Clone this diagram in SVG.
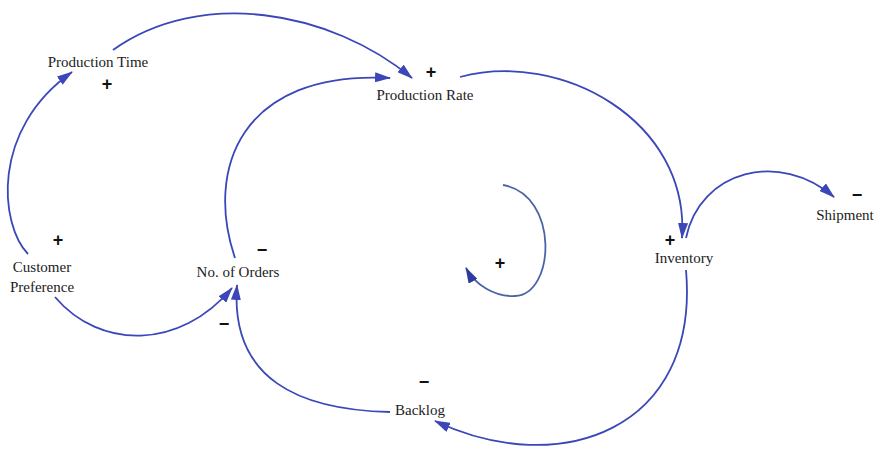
<svg xmlns="http://www.w3.org/2000/svg" width="877" height="452" viewBox="0 0 877 452">
<style>
.lbl{font-family:"Liberation Serif","Times New Roman",serif;font-size:15px;fill:#222;text-anchor:middle}
.sg{font-family:"Liberation Sans",Arial,sans-serif;font-size:18px;font-weight:bold;fill:#111;text-anchor:middle}
.ln{fill:none;stroke:#3b47b8;stroke-width:1.8}
.in{fill:none;stroke:#4a64a6;stroke-width:1.8}
</style>
<defs>
<marker id="ah" markerWidth="16" markerHeight="10" refX="15" refY="5" orient="auto" markerUnits="userSpaceOnUse">
<path d="M0,0 L16,5 L0,10 Z" fill="#3b47b8"/>
</marker>
<marker id="ah2" markerWidth="16" markerHeight="10" refX="15" refY="5" orient="auto" markerUnits="userSpaceOnUse">
<path d="M0,0 L16,5 L0,10 Z" fill="#2e3a9e"/>
</marker>
</defs>
<rect width="877" height="452" fill="#fff"/>
<g id="connectors">
<path class="ln" d="M28 254 C0 225,-10 130,72 72" marker-end="url(#ah)"/>
<path class="ln" d="M113 50 C200 -12,330 10,412 78" marker-end="url(#ah)"/>
<path class="ln" d="M235 258 C205 170,240 70,390 78" marker-end="url(#ah)"/>
<path class="ln" d="M460 77 C560 50,690 120,682 238" marker-end="url(#ah)"/>
<path class="ln" d="M686 238 C700 170,780 150,834 197" marker-end="url(#ah)"/>
<path class="ln" d="M686 270 C700 430,560 480,435 421" marker-end="url(#ah)"/>
<path class="ln" d="M390 412 C300 410,230 380,237 285" marker-end="url(#ah)"/>
<path class="ln" d="M55 297 C100 350,180 350,232 288" marker-end="url(#ah)"/>
<path class="in" d="M503 185 C560 195,555 295,515 296 C495 297,475 285,466 268" marker-end="url(#ah2)"/>
</g>
<g id="production-time"><text class="lbl" x="98" y="67">Production Time</text><text class="sg" x="107" y="90">+</text></g>
<g id="production-rate"><text class="lbl" x="425" y="100">Production Rate</text><text class="sg" x="431" y="78">+</text></g>
<g id="customer-preference"><text class="lbl" x="42" y="272">Customer</text><text class="lbl" x="42" y="292">Preference</text><text class="sg" x="58" y="246">+</text></g>
<g id="no-of-orders"><text class="lbl" x="238" y="277">No. of Orders</text><text class="sg" x="262" y="256">−</text><text class="sg" x="224" y="330">−</text></g>
<g id="loop"><text class="sg" x="500" y="269">+</text></g>
<g id="inventory"><text class="lbl" x="684" y="263">Inventory</text><text class="sg" x="670" y="246">+</text></g>
<g id="shipment"><text class="lbl" x="845" y="220">Shipment</text><text class="sg" x="857" y="201">−</text></g>
<g id="backlog"><text class="lbl" x="420" y="415">Backlog</text><text class="sg" x="424" y="388">−</text></g>
</svg>
